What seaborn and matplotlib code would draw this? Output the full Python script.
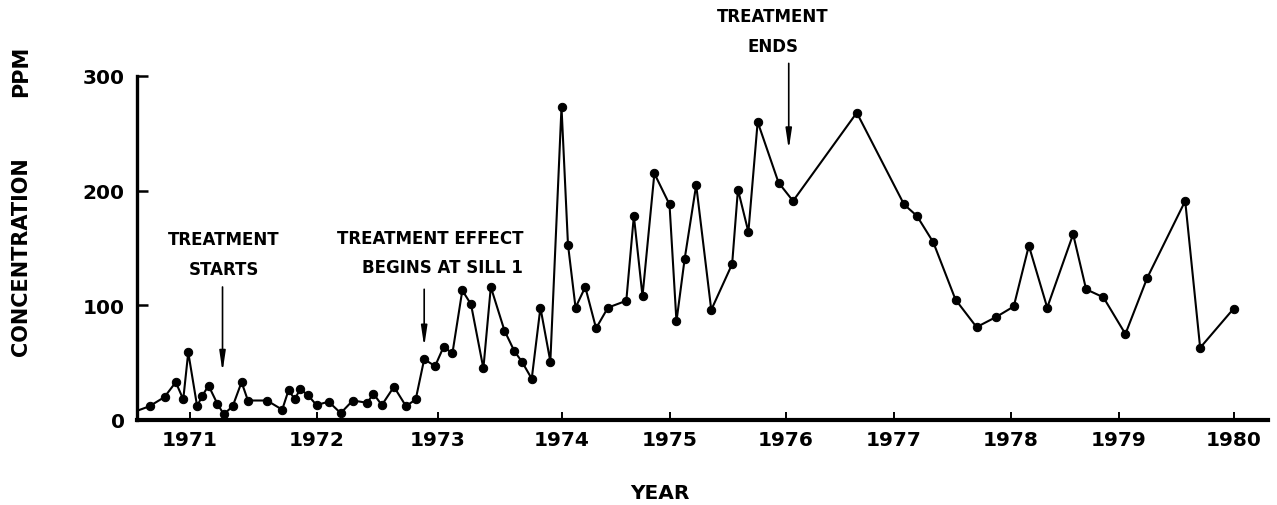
import numpy as np
import pandas as pd
import matplotlib
matplotlib.use("Agg")
import matplotlib.pyplot as plt
import seaborn as sns

# ---- data ----
year = [1970.53, 1970.68, 1970.80, 1970.89, 1970.95, 1970.99, 1971.06, 1971.10, 1971.15,
        1971.22, 1971.27, 1971.34, 1971.41, 1971.46, 1971.61, 1971.73, 1971.78, 1971.83,
        1971.87, 1971.93, 1972.00, 1972.10, 1972.20, 1972.30, 1972.42, 1972.47, 1972.54,
        1972.64, 1972.74, 1972.82, 1972.89, 1972.98, 1973.05, 1973.12, 1973.20, 1973.27,
        1973.37, 1973.43, 1973.54, 1973.62, 1973.68, 1973.76, 1973.83, 1973.91, 1974.00,
        1974.06, 1974.13, 1974.22, 1974.32, 1974.43, 1974.60, 1974.67, 1974.75, 1974.86,
        1975.00, 1975.06, 1975.13, 1975.23, 1975.36, 1975.54, 1975.59, 1975.68, 1975.76,
        1975.94, 1976.07, 1976.66, 1977.09, 1977.20, 1977.34, 1977.53, 1977.71, 1977.88,
        1978.03, 1978.17, 1978.34, 1978.58, 1978.70, 1978.86, 1979.06, 1979.25, 1979.58,
        1979.71, 1980.00]
ppm = [6, 12, 20, 33, 18, 59, 12, 21, 30,
       14, 5, 12, 33, 17, 17, 9, 26, 18,
       27, 22, 13, 16, 6, 17, 15, 23, 13,
       29, 12, 18, 53, 47, 64, 58, 113, 101,
       45, 116, 78, 60, 51, 36, 98, 51, 273,
       153, 98, 116, 80, 98, 104, 178, 108, 215,
       188, 86, 140, 205, 96, 136, 201, 164, 260,
       207, 191, 268, 188, 178, 155, 105, 81, 90,
       99, 152, 98, 162, 114, 107, 75, 124, 191,
       63, 97]
tick_years = [1971, 1972, 1973, 1974, 1975, 1976, 1977, 1978, 1979, 1980]
tick_labels = ["1971", "1972", "1973", "1974", "1975", "1976", "1977", "1978", "1979", "1980"]
y_ticks = [0, 100, 200, 300]

df = pd.DataFrame({"year": year, "ppm": ppm})

# hand-drawn year axis: uneven spacing of year ticks in the original drawing
_anchor_years = np.array([1960, 1970, 1971, 1972, 1973, 1974, 1975, 1976, 1977, 1978, 1979, 1980, 1981, 1990], float)
_anchor_pos = np.array([-1186, 64, 189, 316, 437, 561, 669, 785, 893, 1010, 1118, 1233, 1348, 2383], float)


def _fwd(x):
    return np.interp(x, _anchor_years, _anchor_pos)


def _inv(p):
    return np.interp(p, _anchor_pos, _anchor_years)


sns.set_theme(style="ticks")
plt.rcParams["font.family"] = ["DejaVu Sans"]
plt.rcParams["font.weight"] = "bold"
plt.rcParams["text.color"] = "black"
plt.rcParams["axes.labelcolor"] = "black"
plt.rcParams["xtick.color"] = "black"
plt.rcParams["ytick.color"] = "black"

fig = plt.figure(figsize=(12.77, 5.06), dpi=100)
W, H = 1277, 506
ax = fig.add_axes([137 / W, 1 - 421 / H, (1268 - 137) / W, (421 - 77) / H])

sns.lineplot(data=df, x="year", y="ppm", ax=ax, color="black", linewidth=1.5,
             marker="o", markersize=6, markeredgecolor="black", markerfacecolor="black",
             sort=False, clip_on=True)

ax.set_xscale("function", functions=(_fwd, _inv))
ax.set_xlim(1970.58, 1980.30)
ax.set_ylim(0, 300)
ax.set_xticks(tick_years)
ax.set_xticklabels(tick_labels)
ax.set_yticks(y_ticks)
ax.set_yticklabels([str(v) for v in y_ticks])
ax.minorticks_off()

for s in ["top", "right"]:
    ax.spines[s].set_visible(False)
ax.spines["bottom"].set_linewidth(3.0)
ax.spines["left"].set_linewidth(2.4)
ax.spines["bottom"].set_color("black")
ax.spines["left"].set_color("black")
ax.tick_params(axis="x", direction="in", length=6, width=1.4, pad=7, labelsize=14.5,
               colors="black", labelcolor="black")
ax.tick_params(axis="y", direction="in", length=8, width=1.8, pad=9, labelsize=14.5,
               colors="black", labelcolor="black")
for lab in ax.get_xticklabels() + ax.get_yticklabels():
    lab.set_fontweight("bold")
    lab.set_color("black")
ax.set_xlabel("")
ax.set_ylabel("")
ax.set_facecolor("white")

# axis titles
fig.text(660 / W, 1 - 494 / H, "YEAR", ha="center", va="center", fontsize=14.5,
         fontweight="bold", color="black")
fig.text(21 / W, 1 - 257 / H, "CONCENTRATION", rotation=90, ha="center", va="center",
         fontsize=15, fontweight="bold", color="black")
fig.text(21 / W, 1 - 71 / H, "PPM", rotation=90, ha="center", va="center",
         fontsize=15, fontweight="bold", color="black")

arrow = dict(arrowstyle="-|>,head_length=1.0,head_width=0.15", color="black", lw=1.2,
             shrinkA=0, shrinkB=0)

ax.text(1971.27, 145, "TREATMENT\nSTARTS", ha="center", va="center", multialignment="center",
        fontsize=12, fontweight="bold", linespacing=1.85, color="black")
ax.annotate("", xy=(1971.26, 42), xytext=(1971.26, 116), arrowprops=arrow)

ax.text(1973.69, 146, "TREATMENT EFFECT\nBEGINS AT SILL 1", ha="right", va="center",
        multialignment="right", fontsize=12, fontweight="bold", linespacing=1.75, color="black")
ax.annotate("", xy=(1972.89, 64), xytext=(1972.89, 114), arrowprops=arrow)

ax.text(1975.89, 339, "TREATMENT\nENDS", ha="center", va="center", multialignment="center",
        fontsize=12, fontweight="bold", linespacing=1.85, clip_on=False, color="black")
ax.annotate("", xy=(1976.03, 236), xytext=(1976.03, 311), arrowprops=arrow,
            annotation_clip=False)

fig.savefig("out.png", dpi=100, facecolor="white")
